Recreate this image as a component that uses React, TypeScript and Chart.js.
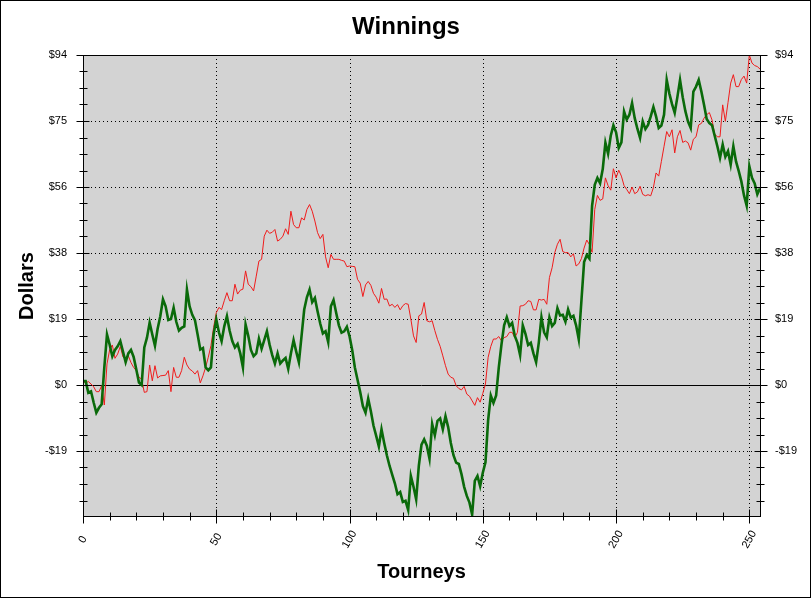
import { useEffect, useRef } from 'react';
import { Chart, registerables } from 'chart.js';

Chart.register(...registerables);

// ---- data ----
const GREEN_SERIES: number[] = [
  1.1, 1.1, -2.2, -1.8, -5, -7.9, -6.5, -5.5, 5, 14.4,
  11.5, 8.2, 10, 11, 12.5, 9.5, 6.5, 9, 10, 8,
  4.4, 0.7, 0, 10.7, 13.5, 17.8, 14.4, 11.2, 16, 19.6,
  24.4, 22.4, 18.5, 18.8, 22, 18, 15.5, 16.3, 16.7, 27.2,
  22.4, 20, 18.5, 14.4, 10.1, 10.5, 5, 4.2, 5, 14.4,
  18.7, 15, 12.5, 16.7, 19.6, 15.5, 12.5, 10.7, 11.7, 9,
  5, 17.2, 14, 10, 8.2, 9, 13.2, 10.3, 12.8, 15.3,
  11.5, 8.5, 6.1, 9, 6.1, 7, 7.7, 4.6, 9, 12.8,
  9.5, 6.5, 14, 21.5, 25, 27.2, 23.6, 24.8, 21, 17.5,
  14.7, 15.3, 12.2, 22.4, 24.2, 20.5, 17, 14.9, 15.3, 16.6,
  13.9, 10, 5, 1.5, -2, -6, -7.9, -3.9, -7.5, -11.6,
  -14.5, -17.5, -12.6, -16.5, -20, -23, -25.5, -28, -31.1, -30.5,
  -33.3, -33, -35.6, -25.9, -29, -32.6, -23, -17, -15.5, -17.3,
  -21, -11.1, -14.3, -10.2, -9.5, -12.6, -8.9, -12, -16.5, -20,
  -22.1, -22.5, -25.4, -29, -31.6, -33.5, -36.9, -27.3, -25.9, -28.8,
  -25, -22, -10, -3, -5.1, -3, 5, 11.5, 17, 19.3,
  16.8, 17.7, 14, 12, 8.5, 17, 14.6, 11.4, 12, 9,
  6.5, 12, 19.3, 15, 13.6, 19.3, 16.8, 17.7, 21.9, 19.8,
  20, 18, 21.5, 19.2, 19.7, 17, 13, 24, 35, 37,
  36, 51, 57, 59, 57.5, 61.5, 69, 65.9, 71, 74,
  72, 67.5, 69.1, 77.9, 75.6, 77, 80.3, 76, 73, 70.4,
  75.1, 72.9, 74.1, 76.5, 79.2, 76.5, 73.2, 73.9, 77, 86.9,
  83, 80, 77.5, 82, 86.9, 82, 78, 75, 73.2, 83.6,
  85, 86.9, 83.6, 79.8, 75.8, 74.6, 74, 71, 68, 64.7,
  68.5, 65, 66.6, 62.8, 68, 63.7, 61, 58, 54, 51.1,
  62.3, 59, 57.4, 54.3, 56,
];

const RED_SERIES: number[] = [
  1.2, 0.5, 1, 0.3, -0.5, -1.9, -1.9, -0.2, -5.7, 6,
  10, 11.4, 7.6, 8.8, 11, 8, 7.4, 8.3, 6.4, 5,
  4.1, 2.2, 1.7, -2.1, -1.9, 5.7, 1.2, 5.5, 2, 2.6,
  2.7, 2.8, 4.1, -1.9, 5, 2.2, 2.2, 4.1, 7.9, 5.7,
  4.5, 4, 3.1, 4.1, 0.6, 2.6, 5, 7.9, 11.2, 16.4,
  20.6, 22.1, 21.5, 24, 26.3, 24, 24, 28.7, 25.9, 27,
  27.3, 32.5, 28.7, 28, 26.8, 31, 35.3, 35.8, 42.4, 44.1,
  43.2, 43.5, 44.3, 41, 41.5, 42.4, 44.5, 42.9, 49.5, 45.7,
  44.8, 44.8, 47.6, 47, 50, 51.4, 49.5, 46.7, 43.4, 41.7,
  42.9, 36.5, 33.4, 37.2, 35.8, 35.8, 35.8, 35.5, 35.3, 33.7,
  33.9, 33.8, 33.7, 30.1, 29, 25.2, 28.5, 29.5, 28.4, 26.1,
  25, 23.3, 27.5, 24.4, 24.5, 22.5, 23, 22.1, 22.9, 21.4,
  22.6, 23.2, 23, 18.8, 14, 12.1, 19.7, 20.2, 23.5, 18.3,
  18, 18.3, 15.5, 13, 11, 8.3, 5.5, 3.1, 2.2, 1.9,
  -0.2, -1, -1.4, -0.4, -2.6, -3.2, -4.5, -5.8, -3.6, -4.9,
  -2.4, 0.3, 7.9, 11, 13.1, 13.1, 13.8, 12.6, 13.5, 13.8,
  15, 15, 13.5, 15, 22.5, 22.6, 23, 24, 23.8, 21.4,
  21.4, 24.4, 24.2, 24.4, 23, 30.6, 33.4, 37.7, 40.1, 41.5,
  38, 37.7, 37.7, 36.5, 37.4, 33.9, 34.5, 36, 39, 41.3,
  40, 37.8, 50, 54, 52.6, 53, 59, 56.8, 55.5, 61.6,
  59, 61.2, 59.5, 56.8, 55.7, 54.5, 56.4, 54.5, 55, 56.6,
  54.3, 53.9, 54.2, 53.9, 56.2, 60.4, 59.5, 63.7, 68, 72.2,
  70.7, 72.7, 66.1, 70.7, 72.5, 69.1, 69.5, 69, 66.9, 70,
  70.7, 74.1, 74.5, 76, 77, 77.6, 75.5, 71.5, 70.7, 70.7,
  79.8, 75.1, 80.5, 86, 88.4, 85, 85, 87, 88, 86,
  94, 91.7, 91, 90.7, 90,
];

const TOURNEYS: number[] = GREEN_SERIES.map((_, i) => i);

const X_TICK_VALUES: number[] = [0, 50, 100, 150, 200, 250];
const X_TICK_LABELS: string[] = ['0', '50', '100', '150', '200', '250'];
const X_MINOR_STEP = 10;

const Y_TICK_VALUES: number[] = [-18.8, 0, 18.8, 37.6, 56.4, 75.2, 94];
const Y_TICK_LABELS: string[] = ['-$19', '$0', '$19', '$38', '$56', '$75', '$94'];
const Y_MINOR_STEP = 4.7;
const Y_MIN = -37.6;
const Y_MAX = 94;
const X_MIN = 0;
const X_MAX = 254;

const FONT = "'Liberation Sans', Arial, Helvetica, sans-serif";

const decorPlugin = {
  id: 'decor',
  beforeDraw(chart: any) {
    const { ctx, chartArea: a } = chart;
    ctx.save();
    ctx.fillStyle = '#ffffff';
    ctx.fillRect(0, 0, chart.width, chart.height);
    ctx.fillStyle = '#d3d3d3';
    ctx.fillRect(a.left, a.top, a.right - a.left, a.bottom - a.top);
    ctx.restore();
  },
  beforeDatasetsDraw(chart: any) {
    const { ctx, chartArea: a } = chart;
    const xs = chart.scales.x;
    const ys = chart.scales.y;
    ctx.save();
    ctx.strokeStyle = '#000';
    ctx.lineWidth = 1;
    ctx.setLineDash([1, 3]);
    X_TICK_VALUES.forEach((v) => {
      if (v === X_MIN) return;
      const px = Math.round(xs.getPixelForValue(v)) + 0.5;
      ctx.beginPath();
      ctx.moveTo(px, a.top);
      ctx.lineTo(px, a.bottom);
      ctx.stroke();
    });
    Y_TICK_VALUES.forEach((v) => {
      if (v === 0 || v === Y_MAX) return;
      const py = Math.round(ys.getPixelForValue(v)) + 0.5;
      ctx.beginPath();
      ctx.moveTo(a.left, py);
      ctx.lineTo(a.right, py);
      ctx.stroke();
    });
    ctx.setLineDash([]);
    const zy = Math.round(ys.getPixelForValue(0)) + 0.5;
    ctx.beginPath();
    ctx.moveTo(a.left, zy);
    ctx.lineTo(a.right, zy);
    ctx.stroke();
    ctx.restore();
  },
  afterDraw(chart: any) {
    const { ctx, chartArea: a } = chart;
    const xs = chart.scales.x;
    const ys = chart.scales.y;
    ctx.save();
    ctx.strokeStyle = '#000';
    ctx.lineWidth = 1;
    ctx.setLineDash([]);
    const L = Math.round(a.left) + 0.5;
    const R = Math.round(a.right) + 0.5;
    const T = Math.round(a.top) + 0.5;
    const B = Math.round(a.bottom) - 0.5;
    ctx.strokeRect(L, T, R - L, B - T);

    const line = (x1: number, y1: number, x2: number, y2: number) => {
      ctx.beginPath();
      ctx.moveTo(x1, y1);
      ctx.lineTo(x2, y2);
      ctx.stroke();
    };
    // y ticks (left and right)
    const nY = Math.round((Y_MAX - Y_MIN) / Y_MINOR_STEP);
    for (let i = 1; i <= nY; i++) {
      const v = Y_MIN + i * Y_MINOR_STEP;
      const major = Y_TICK_VALUES.some((t) => Math.abs(t - v) < 1e-6);
      const py = Math.round(ys.getPixelForValue(v)) + 0.5;
      if (major) {
        line(L - 7, py, L + 6, py);
        line(R - 6, py, R + 7, py);
      } else {
        line(L - 4, py, L + 4, py);
        line(R - 4, py, R + 4, py);
      }
    }
    // x ticks
    for (let v = X_MIN; v <= X_MAX; v += X_MINOR_STEP) {
      const major = X_TICK_VALUES.includes(v);
      const px = Math.round(xs.getPixelForValue(v)) + 0.5;
      if (major) line(px, B - 7, px, B + 7);
      else line(px, B - 4, px, B + 4);
    }
    // x tick labels, rotated
    ctx.fillStyle = '#000';
    ctx.font = `11px ${FONT}`;
    ctx.textAlign = 'center';
    ctx.textBaseline = 'middle';
    X_TICK_VALUES.forEach((v, i) => {
      const px = xs.getPixelForValue(v);
      ctx.save();
      ctx.translate(px, B + 23);
      ctx.rotate(-Math.PI / 3);
      ctx.fillText(X_TICK_LABELS[i], 0, 0);
      ctx.restore();
    });
    // outer frame
    ctx.strokeRect(0.5, 0.5, 810, 597);
    ctx.restore();
  },
};

export default function App() {
  const ref = useRef<HTMLCanvasElement | null>(null);

  useEffect(() => {
    document.body.style.margin = '0';
    const canvas = ref.current;
    if (!canvas) return;
    const chart = new Chart(canvas, {
      type: 'line',
      data: {
        datasets: [
          {
            label: 'Green',
            data: TOURNEYS.map((x, i) => ({ x, y: GREEN_SERIES[i] })),
            borderColor: '#0a6a0a',
            borderWidth: 2.6,
            pointRadius: 0,
            tension: 0,
            fill: false,
          },
          {
            label: 'Red',
            data: TOURNEYS.map((x, i) => ({ x, y: RED_SERIES[i] })),
            borderColor: '#f01c1c',
            borderWidth: 1,
            pointRadius: 0,
            tension: 0,
            fill: false,
          },
        ],
      },
      options: {
        responsive: false,
        animation: false,
        devicePixelRatio: 1,
        layout: { padding: 0 },
        plugins: {
          legend: { display: false },
          tooltip: { enabled: false },
          title: {
            display: true,
            text: 'Winnings',
            color: '#000',
            font: { family: FONT, size: 24, weight: 'bold', lineHeight: 1.2 },
            padding: { top: 12.6, bottom: 13.6 },
          },
        },
        scales: {
          x: {
            type: 'linear',
            min: X_MIN,
            max: X_MAX,
            grid: { display: false, drawTicks: false },
            border: { display: false },
            ticks: { display: false },
            afterBuildTicks: (s: any) => {
              s.ticks = X_TICK_VALUES.map((v) => ({ value: v }));
            },
            afterFit: (s: any) => {
              s.height = 82;
            },
            title: {
              display: true,
              text: 'Tourneys',
              color: '#000',
              font: { family: FONT, size: 20, weight: 'bold', lineHeight: 1.2 },
              padding: { top: 0, bottom: 15 },
            },
          },
          y: {
            type: 'linear',
            position: 'left',
            min: Y_MIN,
            max: Y_MAX,
            grid: { display: false, drawTicks: false },
            border: { display: false },
            afterBuildTicks: (s: any) => {
              s.ticks = Y_TICK_VALUES.map((v) => ({ value: v }));
            },
            afterFit: (s: any) => {
              s.width = 83;
            },
            ticks: {
              autoSkip: false,
              padding: 16,
              color: '#000',
              font: { family: FONT, size: 11 },
              callback: (_v: any, i: number) => Y_TICK_LABELS[i],
            },
            title: {
              display: true,
              text: 'Dollars',
              color: '#000',
              font: { family: FONT, size: 20, weight: 'bold', lineHeight: 1.2 },
              padding: { top: 15, bottom: 0 },
            },
          },
          y2: {
            type: 'linear',
            position: 'right',
            min: Y_MIN,
            max: Y_MAX,
            grid: { display: false, drawTicks: false },
            border: { display: false },
            afterBuildTicks: (s: any) => {
              s.ticks = Y_TICK_VALUES.map((v) => ({ value: v }));
            },
            afterFit: (s: any) => {
              s.width = 52;
            },
            ticks: {
              autoSkip: false,
              padding: 15,
              color: '#000',
              font: { family: FONT, size: 11 },
              callback: (_v: any, i: number) => Y_TICK_LABELS[i],
            },
          },
        },
      } as any,
      plugins: [decorPlugin],
    });
    return () => chart.destroy();
  }, []);

  return (
    <div style={{ width: 812, height: 599 }}>
      <canvas ref={ref} width={812} height={599} style={{ display: 'block', width: 812, height: 599 }} />
    </div>
  );
}
